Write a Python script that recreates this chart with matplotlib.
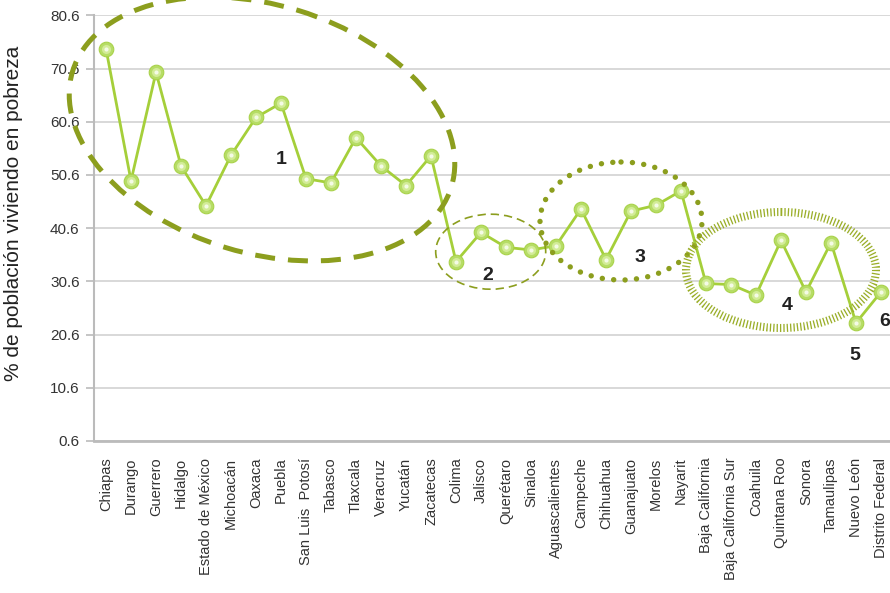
import matplotlib
matplotlib.use("Agg")
import matplotlib.pyplot as plt
from matplotlib.patches import Ellipse
import numpy as np

plt.rcParams['font.family'] = ['Liberation Sans', 'DejaVu Sans']

states = ["Chiapas", "Durango", "Guerrero", "Hidalgo", "Estado de México", "Michoacán",
          "Oaxaca", "Puebla", "San Luis  Potosí", "Tabasco", "Tlaxcala", "Veracruz",
          "Yucatán", "Zacatecas", "Colima", "Jalisco", "Querétaro", "Sinaloa",
          "Aguascalientes", "Campeche", "Chihuahua", "Guanajuato", "Morelos", "Nayarit",
          "Baja California", "Baja California Sur", "Coahuila", "Quintana Roo", "Sonora",
          "Tamaulipas", "Nuevo León", "Distrito Federal"]
poverty = [74.3, 49.5, 69.9, 52.3, 44.8, 54.3, 61.4, 64.1, 49.9, 49.1, 57.6, 52.3,
           48.6, 54.2, 34.3, 39.8, 37.0, 36.5, 37.3, 44.2, 34.7, 43.8, 44.9, 47.6,
           30.2, 30.0, 28.0, 38.3, 28.6, 37.9, 22.8, 28.6]
yticks = [0.6, 10.6, 20.6, 30.6, 40.6, 50.6, 60.6, 70.6, 80.6]
group_labels = ["1", "2", "3", "4", "5", "6"]

W, H = 890, 593
fig = plt.figure(figsize=(W / 100, H / 100), dpi=100)
ax = fig.add_axes([93.5 / W, 152 / H, 800 / W, (577.7 - 152) / H])

x = np.arange(len(states))
line_c = "#a5cf3a"
ax.plot(x, poverty, color=line_c, lw=2.0, zorder=3)
ax.plot(x, poverty, ls="none", marker="o", ms=10.5, mfc="#b6dd66", mec="#a9d24a",
        mew=0.8, zorder=4)
ax.plot(x, poverty, ls="none", marker="o", ms=6.5, mfc="#d3ec98", mec="none", zorder=5)
ax.plot(x, poverty, ls="none", marker="o", ms=3.0, mfc="#f4fbe6", mec="none", zorder=6)

ax.set_xlim(-0.5, 31.5)
ax.set_ylim(0.6, 80.6)
ax.set_yticks(yticks)
ax.set_yticklabels([f"{v:.1f}" for v in yticks], fontsize=11, color="#333333")
ax.set_xticks(x)
ax.set_xticklabels(states, rotation=90, fontsize=10.5, color="#333333", va="top")
ax.tick_params(axis="x", length=0, pad=12)
ax.tick_params(axis="y", length=6, width=1.2, color="#bbbbbb", pad=4)
ax.grid(axis="y", color="#d6d6d6", lw=1.3, zorder=0)
ax.set_axisbelow(True)
for s in ["top", "right"]:
    ax.spines[s].set_visible(False)
ax.spines["left"].set_color("#bbbbbb")
ax.spines["left"].set_linewidth(1.5)
ax.spines["bottom"].set_color("#bbbbbb")
ax.spines["bottom"].set_linewidth(2.0)
ax.set_ylabel("% de población viviendo en pobreza", fontsize=15, color="#222222")
ax.yaxis.set_label_coords(-0.088, 0.535)

# overlay in pixel coordinates for the annotation ellipses
ov = fig.add_axes([0, 0, 1, 1], facecolor="none")
ov.set_xlim(0, W)
ov.set_ylim(H, 0)
ov.axis("off")
olive = "#8c9e1e"
ov.add_patch(Ellipse((262, 129), 396, 248, angle=17, fill=False, ec=olive, lw=3.6,
                     ls=(0, (4.0, 2.6))))
ov.add_patch(Ellipse((490.7, 251.7), 110, 75, angle=0, fill=False, ec=olive, lw=1.2,
                     ls=(0, (5, 3))))
ov.add_patch(Ellipse((621, 221), 162, 118, angle=0, fill=False, ec=olive, lw=3.9,
                     ls=(0, (0.01, 2.1)), capstyle="round"))
ov.add_patch(Ellipse((781, 270), 190, 116, angle=0, fill=False, ec="#9aae28", lw=5.8,
                     ls=(0, (0.16, 0.26))))

label_pos = [(281, 160), (488, 276), (640, 258), (787, 306), (855, 356), (885, 322)]
for t, (px, py) in zip(group_labels, label_pos):
    ov.text(px, py, t, fontsize=14, color="#222222", ha="center", va="center",
            fontweight="bold")

fig.savefig("out.png", dpi=100)
